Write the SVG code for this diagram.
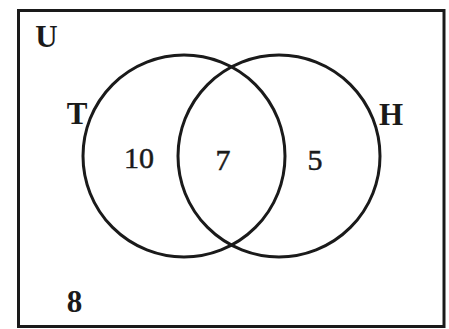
<svg xmlns="http://www.w3.org/2000/svg" width="449" height="329" viewBox="0 0 449 329">
<style>
.ln{fill:none;stroke:#1a1a1a;stroke-width:3}
.t{font-family:"Liberation Serif","Times New Roman",serif;fill:#1a1a1a;text-anchor:middle}
.b{font-weight:bold;font-size:31px}
.n{font-size:30px;stroke:#1a1a1a;stroke-width:0.5}
</style>
<rect width="449" height="329" fill="#ffffff"/>
<g id="universe">
<rect class="ln" x="18.5" y="10.5" width="425.5" height="316"/>
<text class="t b" x="46.5" y="47">U</text>
<text class="t b" x="74.5" y="312">8</text>
</g>
<g id="set-T">
<circle class="ln" cx="184" cy="156" r="101"/>
<text class="t b" x="77" y="124">T</text>
<text class="t n" x="139" y="168">10</text>
</g>
<g id="set-H">
<circle class="ln" cx="279" cy="156" r="101"/>
<text class="t b" x="391" y="125">H</text>
<text class="t n" x="315" y="170">5</text>
</g>
<g id="intersection">
<text class="t n" x="223" y="170">7</text>
</g>
<g id="connectors"></g>
</svg>
